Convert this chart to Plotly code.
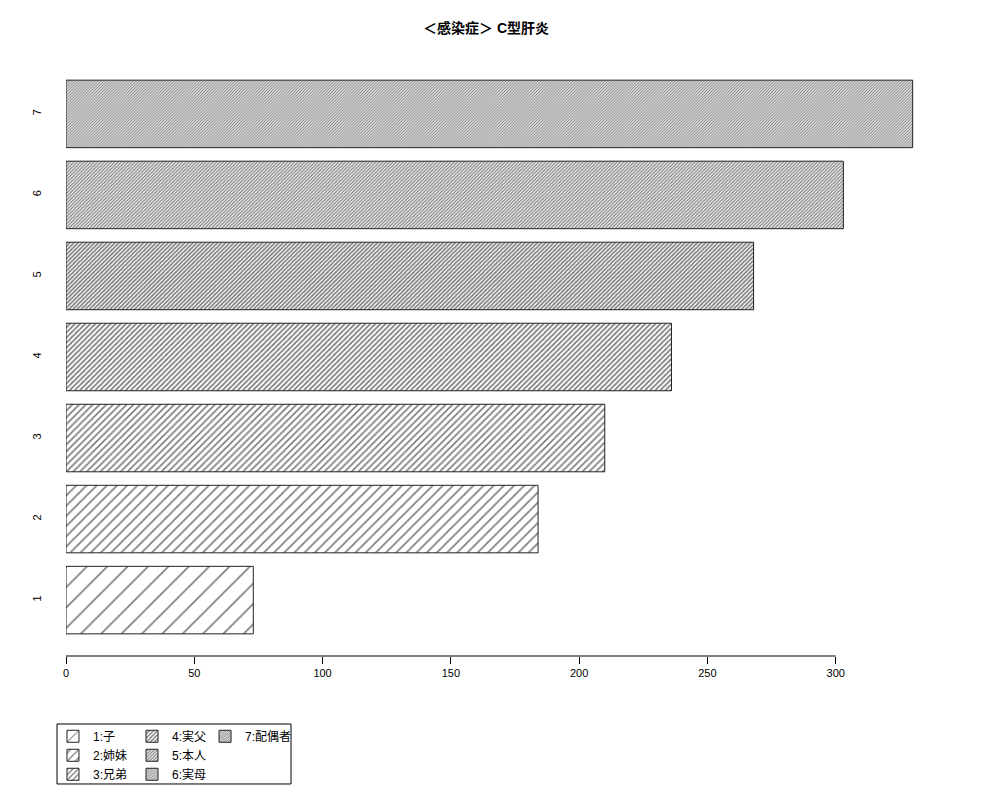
import plotly.graph_objects as go

# data
cats = ["1", "2", "3", "4", "5", "6", "7"]
names = ["1:子", "2:姉妹", "3:兄弟", "4:実父", "5:本人", "6:実母", "7:配偶者"]
vals = [73, 184, 210, 236, 268, 303, 330]
xticks = [0, 50, 100, 150, 200, 250, 300]

# hatch spacing per bar in px (R density 5, 10, ... 35 lines per inch)
hatch = [14.4, 7.2, 4.8, 3.6, 2.9, 2.4, 2.06]
leg_of = ["legend", "legend", "legend", "legend2", "legend2", "legend2", "legend3"]

FONT = "Liberation Sans, Arial, Noto Sans CJK JP, sans-serif"

fig = go.Figure()
for i in range(len(cats)):
    fig.add_trace(go.Bar(
        y=[cats[i]], x=[vals[i]], orientation="h", name=names[i],
        width=1 / 1.2,
        marker=dict(color="white",
                    line=dict(color="#222222", width=1),
                    pattern=dict(shape="/", size=hatch[i],
                                 solidity=min(1.7 / hatch[i], 0.56),
                                 fgcolor="black", bgcolor="white")),
        legend=leg_of[i],
    ))

# R style axis line spanning only the ticks
fig.add_shape(type="line", xref="x", yref="paper", x0=min(xticks), x1=max(xticks),
              y0=0, y1=0, line=dict(color="black", width=1))
# legend box
fig.add_shape(type="rect", xref="paper", yref="paper", x0=-0.0102, x1=0.2557,
              y0=-0.2140, y1=-0.1137, line=dict(color="black", width=1))

leg_common = dict(orientation="v", xanchor="left", yanchor="top", bgcolor="rgba(0,0,0,0)",
                  font=dict(family=FONT, size=12, color="black"), itemwidth=30,
                  tracegroupgap=0)

fig.update_layout(
    width=1000, height=800,
    margin=dict(l=58, r=62, t=50, b=152),
    paper_bgcolor="white", plot_bgcolor="white",
    barmode="overlay",
    title=dict(text="<b>＜感染症＞ C型肝炎</b>", x=0.478, xref="container", y=0.975,
               xanchor="center", yanchor="middle",
               font=dict(family=FONT, size=14, color="black")),
    xaxis=dict(range=[0, 343], tickvals=xticks, ticks="outside", ticklen=7,
               tickcolor="black", showgrid=False, zeroline=False, showline=False,
               tickfont=dict(family=FONT, size=11, color="black")),
    yaxis=dict(range=[-0.69, 6.69], showgrid=False, zeroline=False, showline=False,
               tickangle=-90, ticks="", ticklabelstandoff=22,
               tickfont=dict(family=FONT, size=11, color="black")),
    legend=dict(x=-0.0148, y=-0.110, **leg_common),
    legend2=dict(x=0.075, y=-0.110, **leg_common),
    legend3=dict(x=0.158, y=-0.110, **leg_common),
)

fig.write_html("out.html")
